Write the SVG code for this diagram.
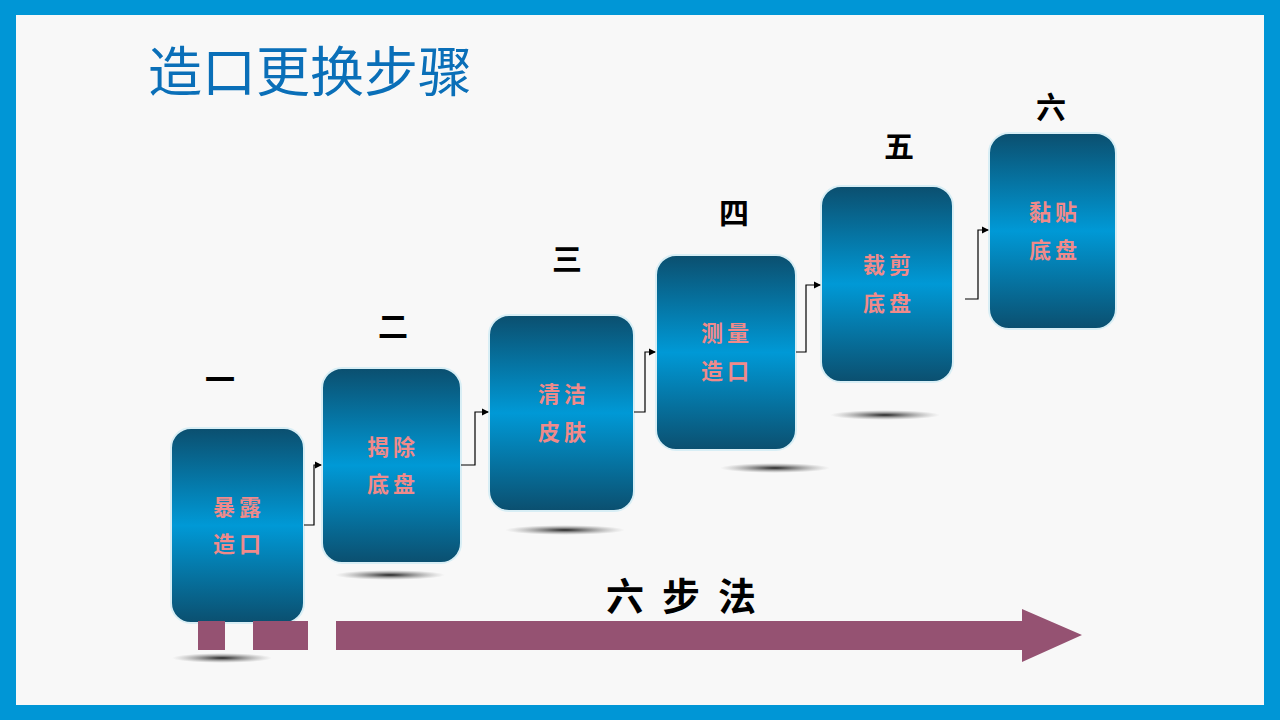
<svg xmlns="http://www.w3.org/2000/svg" width="1280" height="720" viewBox="0 0 1280 720">
<defs>
<linearGradient id="g" x1="0" y1="0" x2="0" y2="1">
<stop offset="0" stop-color="#0b4f6f"/><stop offset="0.5" stop-color="#0099d6"/><stop offset="1" stop-color="#0b4f6f"/>
</linearGradient>
<radialGradient id="sh"><stop offset="0" stop-color="#222"/><stop offset="1" stop-color="#888" stop-opacity="0"/></radialGradient>
<marker id="ar" markerWidth="6" markerHeight="6" refX="5" refY="3" orient="auto"><path d="M0,0 L6,3 L0,6 Z" fill="#000"/></marker>
<style>
.box{fill:url(#g);stroke:#d8eef5;stroke-width:2}
.t{font-family:"Noto Sans CJK SC",sans-serif;font-weight:bold;font-size:22px;fill:#f08a8a;text-anchor:middle;letter-spacing:4px}
.n{font-family:"Noto Sans CJK SC",sans-serif;font-weight:bold;font-size:30px;fill:#000;text-anchor:middle}
.c{fill:none;stroke:#000;stroke-width:1.2;marker-end:url(#ar)}
</style>
</defs>
<rect width="1280" height="720" fill="#0096d6"/>
<rect x="16" y="15" width="1248" height="690" fill="#f8f8f8"/>
<text x="148" y="92" font-family="Noto Sans CJK SC,sans-serif" font-size="54" fill="#0a6fb8">造口更换步骤</text>
<g id="shadows">
<ellipse cx="222" cy="658" rx="50" ry="5" fill="url(#sh)"/>
<ellipse cx="390" cy="575" rx="55" ry="5" fill="url(#sh)"/>
<ellipse cx="565" cy="530" rx="60" ry="5" fill="url(#sh)"/>
<ellipse cx="775" cy="468" rx="55" ry="5" fill="url(#sh)"/>
<ellipse cx="885" cy="415" rx="55" ry="5" fill="url(#sh)"/>
</g>
<g id="n1"><rect class="box" x="171" y="428" width="133" height="195" rx="20"/><text class="t" x="239" y="515">暴露</text><text class="t" x="239" y="552">造口</text><text class="n" x="220" y="390">一</text></g>
<g id="n2"><rect class="box" x="322" y="368" width="139" height="195" rx="20"/><text class="t" x="393" y="455">揭除</text><text class="t" x="393" y="492">底盘</text><text class="n" x="393" y="337">二</text></g>
<g id="n3"><rect class="box" x="489" y="315" width="145" height="196" rx="20"/><text class="t" x="564" y="402">清洁</text><text class="t" x="564" y="440">皮肤</text><text class="n" x="567" y="270">三</text></g>
<g id="n4"><rect class="box" x="656" y="255" width="140" height="195" rx="20"/><text class="t" x="727" y="341">测量</text><text class="t" x="727" y="379">造口</text><text class="n" x="734" y="224">四</text></g>
<g id="n5"><rect class="box" x="821" y="186" width="132" height="196" rx="20"/><text class="t" x="889" y="273">裁剪</text><text class="t" x="889" y="311">底盘</text><text class="n" x="899" y="157">五</text></g>
<g id="n6"><rect class="box" x="989" y="133" width="127" height="196" rx="20"/><text class="t" x="1055" y="220">黏贴</text><text class="t" x="1055" y="258">底盘</text><text class="n" x="1051" y="118">六</text></g>
<g id="connectors">
<path class="c" d="M304,525 H314 V465 H321"/>
<path class="c" d="M461,465 H475 V412 H488"/>
<path class="c" d="M634,412 H645 V352 H655"/>
<path class="c" d="M796,352 H806 V285 H820"/>
<path class="c" d="M965,299 H978 V230 H988"/>
</g>
<g id="arrow" fill="#955272">
<rect x="198" y="621" width="27" height="29"/>
<rect x="253" y="621" width="55" height="29"/>
<path d="M336,621 H1022 V609 L1082,635 L1022,662 V650 H336 Z"/>
</g>
<text x="690" y="610" font-family="Noto Sans CJK SC,sans-serif" font-weight="bold" font-size="38" text-anchor="middle" letter-spacing="18">六步法</text>
</svg>
